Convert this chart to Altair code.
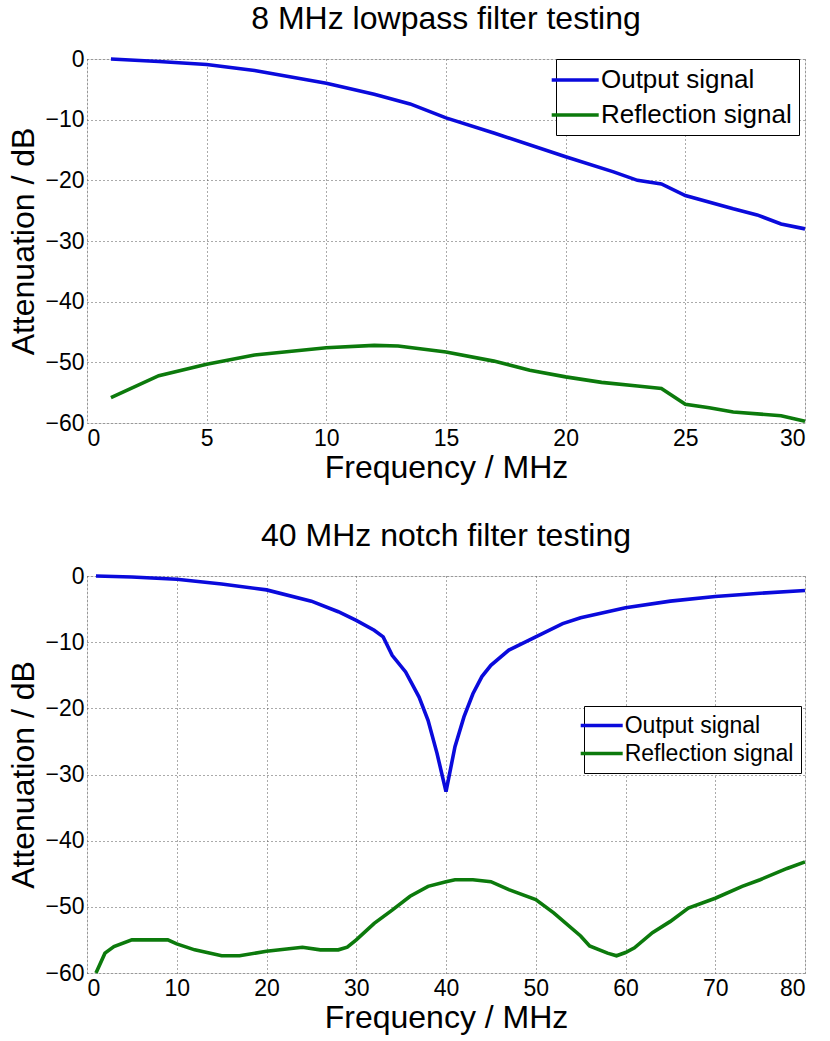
import altair as alt
import pandas as pd

# ---- 8 MHz lowpass filter (frequency in MHz, attenuation in dB) ----
lp_out_freq = [1, 3, 5, 7, 10, 12, 13.5, 15, 17, 20, 22, 23, 24, 25, 27, 28, 29, 30]
lp_out_db = [0, -0.4, -0.9, -1.9, -4.0, -5.8, -7.4, -9.7, -12.2, -16.1, -18.6, -20.0,
             -20.6, -22.5, -24.7, -25.7, -27.2, -28.0]

lp_ref_freq = [1, 3, 5, 7, 10, 12, 13, 15, 17, 18.5, 20, 21.5, 23, 24, 25, 26, 27, 29, 30]
lp_ref_db = [-55.8, -52.2, -50.3, -48.8, -47.6, -47.2, -47.3, -48.3, -49.8, -51.3, -52.4,
             -53.3, -53.9, -54.3, -56.9, -57.5, -58.2, -58.8, -59.7]

# ---- 40 MHz notch filter ----
nf_out_freq = [1, 5, 10, 15, 20, 25, 28, 30, 32, 33, 34, 35.5, 37, 38, 39, 40, 41, 42, 43,
               44, 45, 47, 50, 53, 55, 60, 65, 70, 75, 80]
nf_out_db = [0, -0.15, -0.5, -1.2, -2.1, -3.8, -5.4, -6.7, -8.2, -9.2, -12.0, -14.5, -18.3,
             -21.8, -26.8, -32.6, -25.8, -21.3, -17.8, -15.2, -13.5, -11.2, -9.2, -7.2,
             -6.3, -4.8, -3.8, -3.1, -2.6, -2.2]

nf_ref_freq = [1, 2, 3, 5, 7, 9, 10, 12, 15, 17, 20, 22, 24, 26, 28, 29, 30, 32, 34, 36, 38,
               40, 41, 43, 45, 47, 50, 52, 55, 56, 58, 59, 60, 61, 63, 65, 67, 70, 73, 75,
               78, 80]
nf_ref_db = [-60.0, -57.0, -56.0, -55.0, -55.0, -55.0, -55.6, -56.5, -57.4, -57.4, -56.7,
             -56.4, -56.1, -56.5, -56.5, -56.1, -55.0, -52.5, -50.5, -48.4, -46.9, -46.2,
             -45.9, -45.9, -46.2, -47.4, -48.9, -50.9, -54.4, -55.9, -57.0, -57.4, -56.9,
             -56.2, -53.9, -52.2, -50.2, -48.7, -46.9, -45.9, -44.2, -43.2]

series_names = ["Output signal", "Reflection signal"]
series_colors = ["#0a0adc", "#0c7a0c"]

FONT = "Liberation Sans"
STROKE = 3.6
# legend swatch: a line extending left of the symbol cell, so the long swatch
# does not inflate the row height
SWATCH = "M-3,0L1,0"


def frame(freq_a, db_a, freq_b, db_b):
    a = pd.DataFrame({"freq": freq_a, "db": db_a, "series": series_names[0],
                      "order": range(len(freq_a))})
    b = pd.DataFrame({"freq": freq_b, "db": db_b, "series": series_names[1],
                      "order": range(len(freq_b))})
    return pd.concat([a, b], ignore_index=True)


def panel(df, title, xmax, xstep, w, h, legend_x, legend_y, legend_font, sym_len,
          row_pad, box_pad):
    grid = dict(grid=True, gridColor="#555555", gridDash=[1, 3], gridWidth=1,
                domain=False, ticks=False, labelFont=FONT, labelFontSize=23,
                labelColor="#000000", titleFont=FONT, titleFontSize=32,
                titleFontWeight="normal", titleColor="#000000")
    half = sym_len / 4.0          # path spans 4 units of sqrt(size)/2
    size = (2 * half) ** 2
    cell = sym_len + STROKE       # width of the symbol column
    sym_off = 3 * half - cell / 2
    lab_off = max(0.0, sym_len + 2 - cell)
    return (
        alt.Chart(df, title=alt.Title(title, font=FONT, fontSize=32, fontWeight="normal",
                                      color="#000000", offset=12))
        .mark_line(strokeWidth=STROKE)
        .encode(
            x=alt.X("freq:Q", title="Frequency / MHz",
                    scale=alt.Scale(domain=[0, xmax], nice=False),
                    axis=alt.Axis(values=list(range(0, xmax + 1, xstep)), labelPadding=4,
                                  titlePadding=2, **grid)),
            y=alt.Y("db:Q", title="Attenuation / dB",
                    scale=alt.Scale(domain=[-60, 0], nice=False),
                    axis=alt.Axis(values=list(range(-60, 1, 10)), labelPadding=3,
                                  titlePadding=4, **grid)),
            color=alt.Color("series:N",
                            scale=alt.Scale(domain=series_names, range=series_colors),
                            legend=alt.Legend(title=None, orient="none",
                                              legendX=legend_x, legendY=legend_y,
                                              symbolType=SWATCH, symbolStrokeWidth=STROKE,
                                              symbolSize=size, symbolOffset=sym_off,
                                              labelFont=FONT, labelFontSize=legend_font,
                                              labelColor="#000000", labelOffset=lab_off,
                                              labelLimit=0,
                                              strokeColor="#000000", fillColor="#ffffff",
                                              padding=box_pad, rowPadding=row_pad,
                                              cornerRadius=0)),
            order="order:Q",
        )
        .properties(width=w, height=h)
    )


top = panel(frame(lp_out_freq, lp_out_db, lp_ref_freq, lp_ref_db),
            "8 MHz lowpass filter testing", 30, 5, 718, 364, 469, 0, 26, 47, 8, 7)
bottom = panel(frame(nf_out_freq, nf_out_db, nf_ref_freq, nf_ref_db),
               "40 MHz notch filter testing", 80, 10, 718, 397, 497, 130, 23, 42, 3, 7)

chart = (
    alt.vconcat(top, bottom, spacing=35)
    .resolve_scale(color="independent")
    .configure_view(stroke="#000000", strokeWidth=1)
    .configure(background="#ffffff", padding={"left": 7, "top": 2, "right": 0, "bottom": 2})
)

chart.save("out.html", embed_options={"renderer": "svg", "actions": False})
